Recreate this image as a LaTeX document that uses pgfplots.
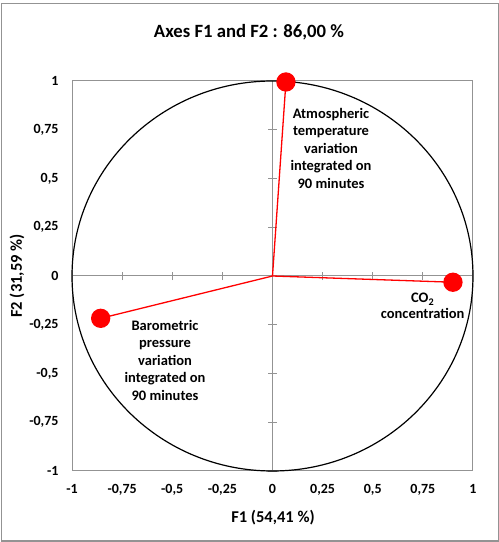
\documentclass[border=0pt]{standalone}
\usepackage{pgfplots}
\pgfplotsset{compat=1.18}
\usepackage{fontspec}
\setmainfont{Carlito}
\begin{document}
\begin{tikzpicture}[x=1pt,y=1pt]
\useasboundingbox (0,0) rectangle (499,542);
\draw[gray!85, line width=1.2pt] (1.5,1) rectangle (498.2,538.5);
% box axis with tick labels
\begin{axis}[at={(72pt,71pt)}, anchor=south west, scale only axis,
  width=401pt, height=390pt,
  xmin=-1, xmax=1, ymin=-1, ymax=1,
  xtick={-1,-0.75,...,1}, ytick={-1,-0.75,...,1},
  major tick length=0pt,
  axis line style={gray!85, line width=1pt},
  /pgf/number format/.cd, use comma, fixed, 1000 sep={}, assume math mode=true,
  /pgfplots/.cd,
  tick label style={font=\bfseries\fontsize{14}{16}\selectfont, black},
  yticklabel style={xshift=-10pt},
  xticklabel style={yshift=-9.5pt},
  clip=false]
\end{axis}
% middle axis with crossing ticks and the data
\begin{axis}[at={(72pt,71pt)}, anchor=south west, scale only axis,
  width=401pt, height=390pt,
  xmin=-1, xmax=1, ymin=-1, ymax=1,
  axis lines=middle,
  axis line style={gray!85, line width=1pt, -},
  xtick={-1,-0.75,...,1}, ytick={-1,-0.75,...,1},
  xticklabels={}, yticklabels={},
  major tick length=8pt, tick align=center,
  tick style={gray!85, line width=1pt},
  clip=false]
\draw[black, line width=1.2pt] (axis cs:0,0) ellipse [x radius=1, y radius=1];
\addplot[red, line width=1.3pt, mark=*, mark size=9pt, mark options={fill=red, draw=red}, mark indices={2}]
  coordinates {(0,0) (0.067,0.995)};
\addplot[red, line width=1.3pt, mark=*, mark size=9pt, mark options={fill=red, draw=red}, mark indices={2}]
  coordinates {(0,0) (0.900,-0.032)};
\addplot[red, line width=1.3pt, mark=*, mark size=9pt, mark options={fill=red, draw=red}, mark indices={2}]
  coordinates {(0,0) (-0.857,-0.217)};
\node[align=center, font=\bfseries\fontsize{14.5}{17.5}\selectfont] at (axis cs:0.292,0.656)
  {Atmospheric\\temperature\\variation\\integrated on\\90 minutes};
\node[align=center, font=\bfseries\fontsize{14.5}{15.5}\selectfont] at (axis cs:0.749,-0.154)
  {CO\textsubscript{2}\\concentration};
\node[align=center, font=\bfseries\fontsize{14.5}{17.5}\selectfont] at (axis cs:-0.536,-0.431)
  {Barometric\\pressure\\variation\\integrated on\\90 minutes};
\end{axis}
\node[font=\bfseries\fontsize{18.7}{22}\selectfont] at (249,510) {Axes F1 and F2 : 86,00 \%};
\node[font=\bfseries\fontsize{16.5}{19}\selectfont] at (273,24) {F1 (54,41 \%)};
\node[font=\bfseries\fontsize{16.5}{19}\selectfont, rotate=90] at (17,266) {F2 (31,59 \%)};
\end{tikzpicture}
\end{document}
